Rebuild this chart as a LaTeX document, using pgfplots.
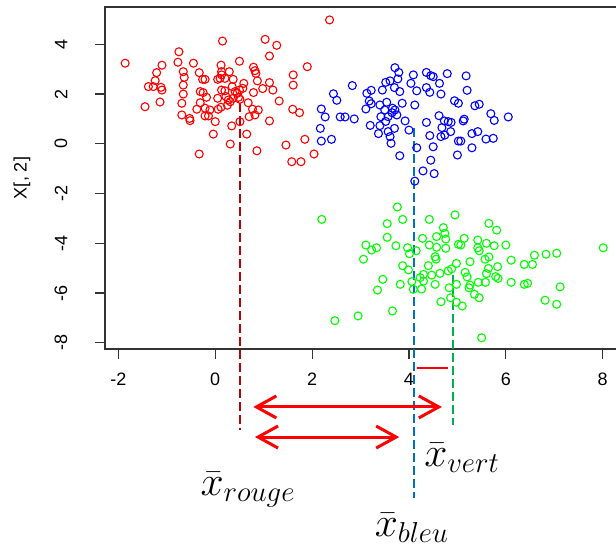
\documentclass[border=0pt]{standalone}
\usepackage{pgfplots}
\pgfplotsset{compat=1.18}
\usepackage{pgfplotstable}
\usepackage{fontspec}
\setmainfont{Liberation Sans}
\usetikzlibrary{arrows.meta}
\definecolor{dred}{HTML}{C00000}
\definecolor{dblue}{HTML}{0070C0}
\definecolor{dgreen}{HTML}{00B050}

\pgfplotstableread{
x y
-1.86 3.24
-1.45 1.49
-1.38 2.30
-1.28 2.30
-1.24 2.54
-1.21 2.86
-1.10 3.16
-1.12 2.27
-1.10 2.16
-1.14 1.68
-0.75 3.70
-0.77 3.28
-0.66 2.90
-0.64 2.67
-0.66 2.36
-0.66 2.00
-0.69 1.63
-0.69 1.16
-0.53 1.02
-0.52 0.93
-0.45 3.24
-0.33 2.86
-0.26 2.59
-0.21 2.59
-0.31 2.10
-0.25 2.06
-0.31 1.65
-0.18 1.87
-0.38 1.39
-0.21 1.12
-0.14 1.12
-0.21 1.43
-0.11 1.36
0.00 0.89
-0.04 0.39
-0.33 -0.41
0.06 1.39
0.05 1.83
0.05 2.59
0.10 2.63
0.12 3.16
0.15 4.13
0.13 2.90
0.13 2.16
1.03 4.20
1.27 3.96
1.12 3.53
0.50 3.32
0.79 3.08
0.82 2.94
0.84 2.83
0.29 2.90
0.13 2.77
0.20 2.63
0.37 2.59
0.59 2.43
0.87 2.53
1.12 2.46
0.98 2.22
1.19 2.16
0.57 2.23
0.50 2.16
0.41 2.10
0.20 2.13
0.79 2.06
0.48 1.87
0.37 1.83
0.27 1.76
0.31 1.69
0.51 1.79
0.68 1.65
1.32 1.72
0.77 1.39
0.89 1.36
0.82 1.16
0.70 1.09
0.51 0.89
0.34 0.72
1.12 0.92
0.65 0.39
0.31 -0.01
0.86 -0.28
1.46 -0.05
1.60 1.39
1.74 1.25
1.61 2.77
1.61 2.36
1.90 3.10
1.85 0.18
2.04 -0.41
1.58 -0.72
1.77 -0.72
2.36 4.98
0.22 1.90
0.35 2.30
0.45 2.02
0.25 1.55
0.12 1.47
}\redpts

\pgfplotstableread{
x y
2.19 1.40
2.27 1.08
2.17 0.62
2.19 0.11
2.40 0.18
2.44 2.01
2.51 1.75
2.83 2.34
2.58 1.08
2.68 1.08
2.87 1.00
3.13 2.03
3.22 2.15
3.18 1.72
3.22 1.61
3.11 1.40
3.20 0.74
3.37 0.41
3.40 0.73
3.45 2.16
3.52 2.47
3.61 2.53
3.71 3.06
3.79 2.87
3.77 2.61
3.70 2.26
3.81 2.10
3.54 1.67
3.40 1.56
3.50 1.36
3.66 1.43
3.71 1.36
3.42 1.09
3.57 1.09
3.75 1.16
3.86 1.63
3.57 0.49
3.61 0.29
3.70 0.62
3.63 0.02
3.81 -0.48
3.92 0.92
4.00 0.55
4.04 2.43
4.09 2.77
4.12 1.56
4.12 -1.50
4.16 -0.16
4.45 -0.66
4.29 -1.09
4.52 -1.20
4.36 2.87
4.45 2.74
4.50 2.70
4.79 2.82
5.18 2.73
4.63 2.43
4.36 2.26
4.43 2.07
4.66 2.00
5.20 2.15
4.16 2.13
4.94 1.73
5.02 1.63
5.36 1.53
5.45 1.59
5.69 1.21
6.05 1.08
5.76 0.94
4.62 1.13
4.36 0.86
4.73 0.92
4.81 0.89
4.87 0.86
5.14 0.99
5.12 0.92
4.68 0.65
4.86 0.49
4.43 0.33
4.66 0.29
4.74 0.35
5.30 0.41
5.42 0.49
5.59 0.19
5.74 0.22
5.02 0.11
5.07 0.11
4.50 -0.12
5.30 -0.16
5.00 -0.45
3.52 0.90
3.65 1.25
}\bluepts

\pgfplotstableread{
x y
2.20 -3.04
3.76 -2.54
3.87 -3.04
4.42 -3.04
4.95 -2.86
3.55 -3.21
3.55 -3.76
3.11 -4.07
3.23 -4.27
3.33 -4.18
3.06 -4.64
3.73 -4.10
3.97 -4.18
4.15 -4.30
4.01 -4.42
4.28 -3.80
4.42 -4.07
4.57 -3.73
4.71 -3.37
4.74 -3.60
4.76 -3.83
4.57 -4.16
4.76 -4.20
4.54 -4.54
4.56 -4.64
3.87 -4.90
3.99 -5.07
3.46 -5.45
3.82 -5.65
3.35 -5.88
4.06 -5.54
4.23 -5.38
4.30 -5.52
4.09 -5.85
4.26 -5.84
4.30 -5.25
4.47 -5.28
4.64 -5.21
4.81 -5.11
4.88 -5.03
4.54 -5.65
4.83 -5.79
4.98 -5.65
4.66 -6.35
4.86 -6.19
4.98 -6.37
3.66 -6.72
2.95 -6.92
2.47 -7.11
4.98 -4.81
5.02 -4.04
5.65 -3.20
5.81 -3.47
5.14 -3.80
5.07 -4.07
5.42 -3.87
5.42 -4.18
5.60 -4.00
5.76 -4.10
6.00 -4.07
5.57 -4.64
6.11 -4.68
6.38 -4.85
6.55 -4.85
6.59 -4.48
6.83 -4.44
7.05 -4.40
8.01 -4.18
5.26 -4.74
5.16 -5.17
5.83 -4.94
5.64 -5.01
5.60 -5.22
5.79 -5.34
5.84 -5.41
5.58 -5.57
5.43 -5.57
5.26 -5.68
5.24 -5.79
6.11 -5.57
6.38 -5.65
6.45 -5.61
7.12 -5.75
5.35 -6.05
5.45 -6.19
5.10 -6.52
6.81 -6.29
7.05 -6.45
5.50 -7.80
5.45 -4.30
5.65 -4.55
5.20 -5.35
4.40 -4.90
}\greenpts

\begin{document}
\begin{tikzpicture}
\begin{axis}[
  at={(52.5pt,-174.5pt)}, anchor=south west,
  scale only axis, width=257.5pt, height=171pt,
  xmin=-2.276, xmax=8.357, ymin=-8.25, ymax=5.50,
  clip=false,
  axis line style={black!80, line width=0.6pt},
  tick pos=left, tick align=outside,
  major tick length=5pt,
  every tick/.style={black!80, line width=0.6pt},
  xtick={-2,0,2,4,6,8}, ytick={-8,-6,-4,-2,0,2,4},
  /pgf/number format/assume math mode=true,
  tick label style={font=\fontsize{9}{10}\selectfont},
  xticklabel shift=3.5pt,
  yticklabel style={rotate=90, anchor=south},
  yticklabel shift=10.3pt,
  ylabel={X[, 2]},
  ylabel style={at={(axis description cs:-0.161,0.5)}, anchor=center, font=\fontsize{9}{10}\selectfont},
]
\addplot[only marks, mark=o, mark size=2pt, red, mark options={line width=0.55pt}] table {\redpts};
\addplot[only marks, mark=o, mark size=2pt, blue, mark options={line width=0.55pt}] table {\bluepts};
\addplot[only marks, mark=o, mark size=2pt, green, mark options={line width=0.55pt}] table {\greenpts};
% dashed mean lines
\addplot[no marks, dred, line width=1pt, dash pattern=on 4.5pt off 2pt] coordinates {(0.51,1.64) (0.51,-11.5)};
\addplot[no marks, dblue, line width=1pt, dash pattern=on 4.5pt off 2pt] coordinates {(4.10,0.63) (4.10,-14.24)};
\addplot[no marks, dgreen, line width=1pt, dash pattern=on 4.5pt off 2pt] coordinates {(4.91,-5.28) (4.91,-11.3)};
% short red bar
\addplot[no marks, red, line width=1.4pt] coordinates {(4.17,-9.01) (4.80,-9.01)};
% double arrows
\addplot[no marks, red, line width=1.5pt, {Straight Barb[length=10pt,width=11pt]}-{Straight Barb[length=10pt,width=11pt]}] coordinates {(0.785,-10.58) (4.68,-10.58)};
\addplot[no marks, red, line width=1.5pt, {Straight Barb[length=10pt,width=11pt]}-{Straight Barb[length=10pt,width=11pt]}] coordinates {(0.82,-11.79) (3.80,-11.79)};
\end{axis}
\node[font=\fontsize{21}{24}\selectfont] at (124pt,-245pt) {$\bar{x}_{rouge}$};
\node[font=\fontsize{21}{24}\selectfont] at (206pt,-264pt) {$\bar{x}_{bleu}$};
\node[font=\fontsize{21}{24}\selectfont] at (231pt,-229pt) {$\bar{x}_{vert}$};
\pgfresetboundingbox
\useasboundingbox (0pt,0pt) rectangle (308pt,-275pt);
\end{tikzpicture}
\end{document}
